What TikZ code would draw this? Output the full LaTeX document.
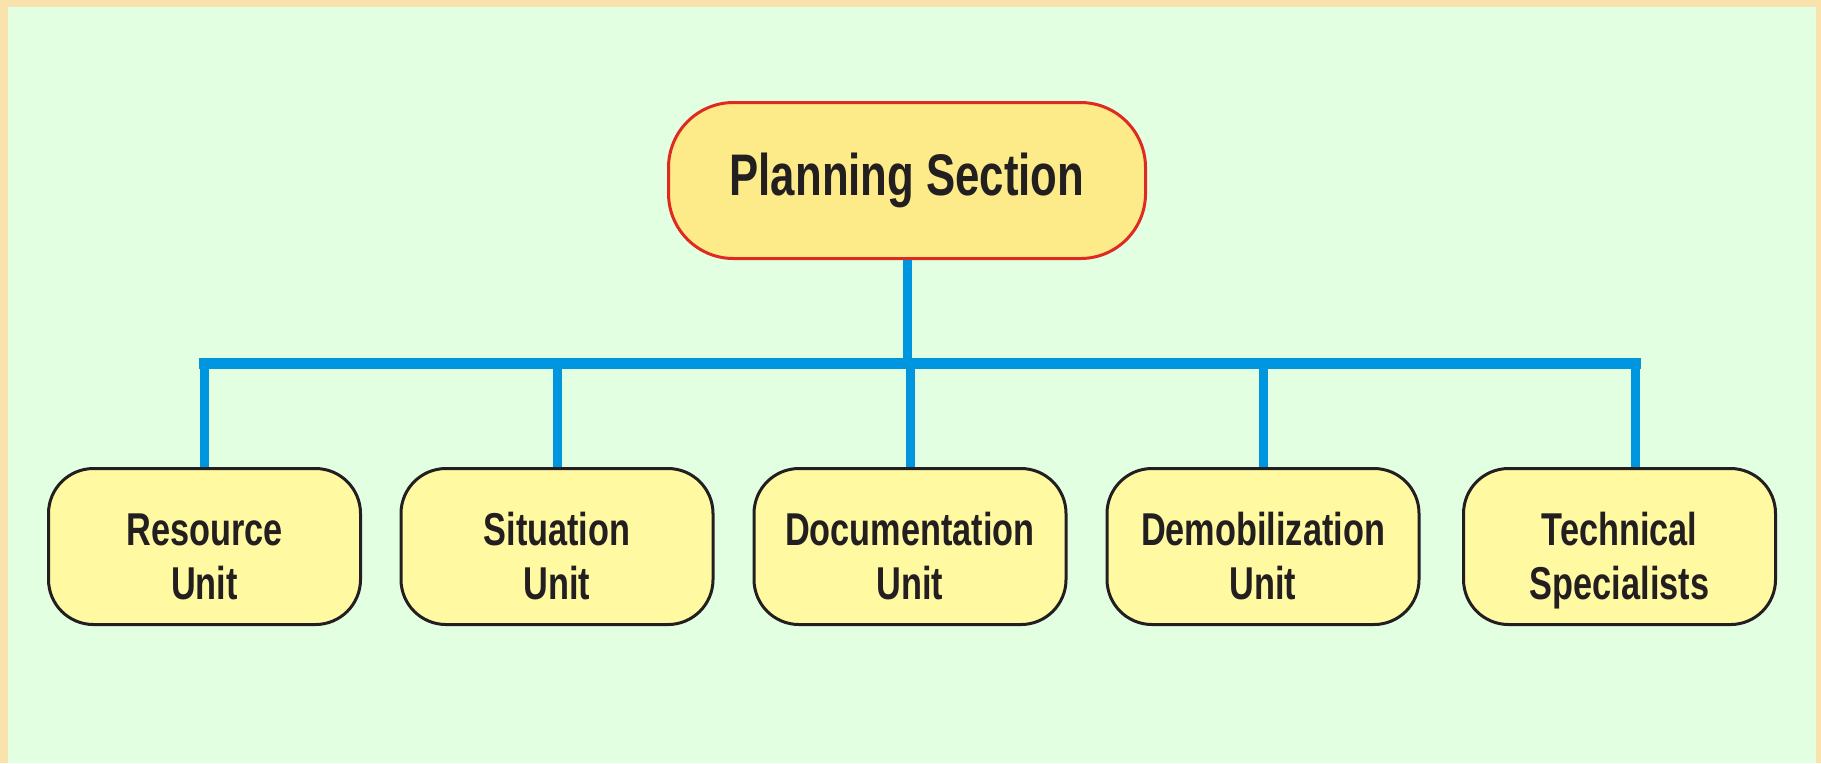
\documentclass[tikz,border=0pt]{standalone}
\usepackage{fontspec}
\setmainfont{Liberation Sans}[FakeStretch=0.745]

\definecolor{frameorange}{HTML}{F9E2AC}
\definecolor{paleGreen}{HTML}{E3FFE2}
\definecolor{headYellow}{HTML}{FCEB88}
\definecolor{unitYellow}{HTML}{FFF9A2}
\definecolor{headRed}{HTML}{DF2A22}
\definecolor{busBlue}{HTML}{0096DF}
\definecolor{inkBlack}{HTML}{231F20}

\tikzset{
	section/.style = {draw = headRed,
					  line width = 0.3mm,
					  fill = headYellow,
					  rounded corners = 6.5mm,
					  minimum width = 47.7mm,
					  minimum height = 15.6mm,
					  text = inkBlack,
					  font = \bfseries\fontsize{16.7}{20}\selectfont},
	unit/.style = {draw = inkBlack,
				   line width = 0.3mm,
				   fill = unitYellow,
				   rounded corners = 4.5mm,
				   minimum width = 31.2mm,
				   minimum height = 15.6mm,
				   align = center,
				   text = inkBlack,
				   text height = 10.5mm,
				   text depth = 0pt,
				   font = \bfseries\fontsize{13.1}{15.1}\selectfont},
	bus/.style = {busBlue, line width = 1.1mm, line cap = rect},
	drop/.style = {busBlue, line width = 0.9mm}
}

\begin{document}
\begin{tikzpicture}[x = 0.1mm, y = -0.1mm]

	\useasboundingbox (0,0) rectangle (1821,763);
	\fill[frameorange] (0,0) rectangle (1821,763);
	\fill[paleGreen] (8,7) rectangle (1816,763);

	% bus ends
	\coordinate (busL) at (204.5,363.5);
	\coordinate (busR) at (1635,363.5);

	\draw (907,180.5) node[section] (plan) {Planning Section};

	\draw (204.5,546.5) node[unit] (res) {Resource\\Unit};
	\draw (557,546.5) node[unit] (sit) {Situation\\Unit};
	\draw (910,546.5) node[unit] (doc) {Documentation\\Unit};
	\draw (1263,546.5) node[unit] (demob) {Demobilization\\Unit};
	\draw (1619.5,546.5) node[unit] (tech) {Technical\\Specialists};

	\draw[bus] (busL) -- (busR);
	\draw[drop] (plan.south) -- (plan.south |- busL);
	\draw[drop] (busL) -- (res.north);
	\draw[drop] (sit.north |- busL) -- (sit.north);
	\draw[drop] (doc.north |- busL) -- (doc.north);
	\draw[drop] (demob.north |- busL) -- (demob.north);
	\draw[drop] (busR) -- (busR |- tech.north);
\end{tikzpicture}
\end{document}
